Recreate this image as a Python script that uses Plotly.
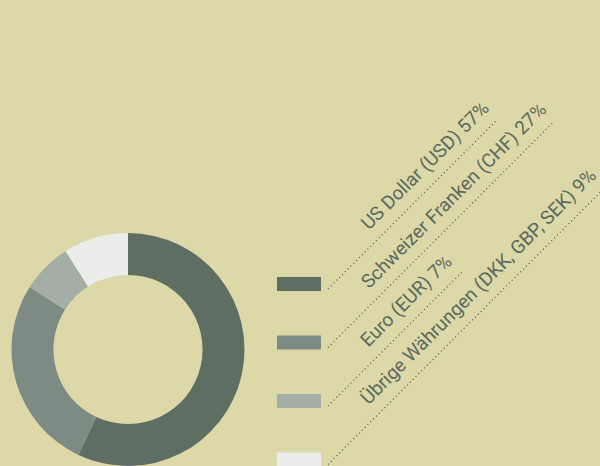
import plotly.graph_objects as go

# ---- data ----
labels = ["US Dollar (USD)", "Schweizer Franken (CHF)", "Euro (EUR)",
          "Übrige Währungen (DKK, GBP, SEK)"]
values = [57, 27, 7, 9]
colors = ["#5e6e63", "#7e8b84", "#a3aea7", "#ebedeb"]
label_texts = [f"{l} {v}%" for l, v in zip(labels, values)]

# ---- style / layout constants (pixel space) ----
W, H = 600, 466
BG = "#dcd8a8"
TEXT = "#5a6a5e"
FONT = "Roboto, Liberation Sans Narrow, sans-serif"
row_top0, row_gap = 277, 58.5
sw_x0, sw_x1, sw_h = 277, 321, 14
leader_x0 = 328
leader_len = [169, 225, 134, 290]   # horizontal run of each 45° leader
text_x, text_bottom_off = 353, -40

fig = go.Figure()

fig.add_trace(go.Pie(
    labels=labels, values=values, sort=False, direction="clockwise",
    rotation=0, hole=0.64,
    marker=dict(colors=colors, line=dict(width=0)),
    textinfo="none", hoverinfo="skip", showlegend=False,
    domain=dict(x=[11 / W, 245 / W], y=[0, 0.5]),
))

shapes, annotations = [], []
for i, txt in enumerate(label_texts):
    top = row_top0 + row_gap * i
    shapes.append(dict(type="rect", xref="x", yref="y",
                       x0=sw_x0, x1=sw_x1, y0=top, y1=top + sw_h,
                       fillcolor=colors[i], line=dict(width=0), layer="above"))
    ly0 = top + 12
    shapes.append(dict(type="line", xref="x", yref="y",
                       x0=leader_x0, y0=ly0,
                       x1=leader_x0 + leader_len[i], y1=ly0 - leader_len[i],
                       line=dict(color="#4f5d53", width=1.3, dash="1px,3px")))
    annotations.append(dict(xref="x", yref="y", x=text_x, y=top + text_bottom_off,
                            xanchor="left", yanchor="bottom", text=txt,
                            textangle=-45, showarrow=False,
                            font=dict(family=FONT, size=19, color=TEXT)))

fig.update_layout(
    width=W, height=H, margin=dict(l=0, r=0, t=0, b=0),
    paper_bgcolor=BG, plot_bgcolor=BG,
    xaxis=dict(range=[0, W], visible=False, fixedrange=True),
    yaxis=dict(range=[H, 0], visible=False, fixedrange=True),
    shapes=shapes, annotations=annotations,
)

fig.write_html("out.html", config={"displayModeBar": False, "staticPlot": True})
with open("out.html", encoding="utf-8") as f:
    html = f.read()
html = html.replace("<head>", "<head><style>html,body{margin:0;padding:0;background:%s;overflow:hidden}</style>" % BG, 1)
with open("out.html", "w", encoding="utf-8") as f:
    f.write(html)
